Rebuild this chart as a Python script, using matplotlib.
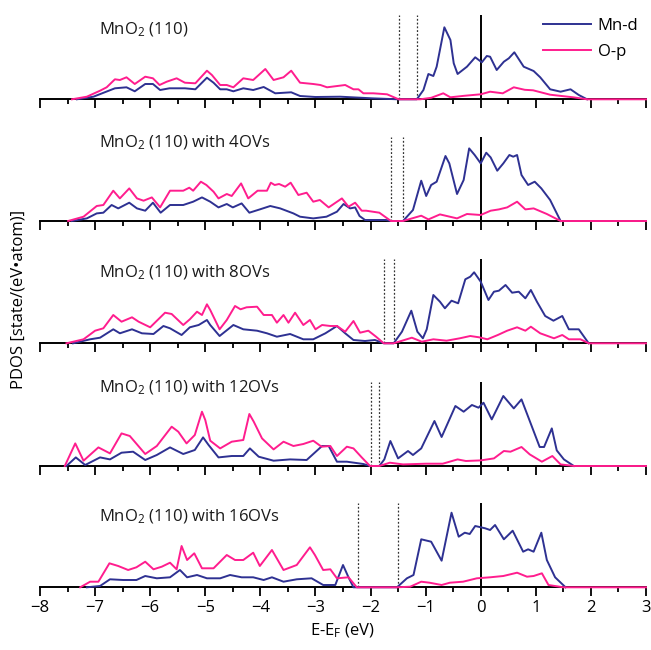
import matplotlib
matplotlib.use('Agg')
import matplotlib.pyplot as plt
from matplotlib.ticker import MultipleLocator

plt.rcParams['font.family'] = ['Open Sans', 'DejaVu Sans']
plt.rcParams['mathtext.default'] = 'regular'

# energy (eV) and PDOS (arbitrary state units) pairs
mnd_0 = [(-7.33, 0), (-7.03, 0.26), (-6.64, 1.1), (-6.43, 1.2), (-6.28, 0.8), (-6.09, 1.53),
         (-5.95, 1.53), (-5.82, 0.93), (-5.65, 1.1), (-5.37, 1.1), (-5.18, 1.0), (-4.97, 2.16),
         (-4.85, 1.66), (-4.73, 1.0), (-4.61, 1.0), (-4.49, 0.8), (-4.31, 1.1), (-4.13, 0.93),
         (-3.94, 1.23), (-3.73, 0.6), (-3.44, 0.7), (-3.28, 0.33), (-3.0, 0.23), (-2.55, 0.26),
         (-1.98, 0.1), (-1.5, 0), (-1.16, 0), (-1.04, 0.93), (-0.95, 2.53), (-0.86, 2.33),
         (-0.8, 3.26), (-0.66, 7.2), (-0.55, 5.93), (-0.49, 3.6), (-0.42, 2.53), (-0.25, 3.26),
         (-0.1, 4.2), (0.02, 3.7), (0.11, 4.33), (0.17, 4.26), (0.29, 2.93), (0.42, 3.76),
         (0.51, 4.1), (0.61, 4.7), (0.78, 3.26), (0.96, 2.83), (1.08, 2.2), (1.26, 1.0),
         (1.45, 0.76), (1.63, 1.0), (1.78, 0.43), (1.93, 0)]
op_0 = [(-7.42, 0), (-7.15, 0.26), (-6.91, 0.86), (-6.79, 1.2), (-6.64, 2.0), (-6.55, 1.93),
        (-6.43, 2.2), (-6.28, 1.53), (-6.09, 2.26), (-5.95, 2.1), (-5.83, 1.43), (-5.7, 1.76),
        (-5.52, 2.1), (-5.37, 1.66), (-5.18, 1.6), (-4.97, 2.86), (-4.88, 2.43), (-4.73, 1.43),
        (-4.61, 1.43), (-4.49, 1.2), (-4.31, 2.1), (-4.13, 1.93), (-3.91, 3.03), (-3.76, 1.93),
        (-3.58, 2.2), (-3.44, 2.86), (-3.28, 1.66), (-3.04, 1.53), (-2.91, 1.43), (-2.79, 1.2),
        (-2.46, 1.43), (-2.31, 1.0), (-2.22, 1.0), (-2.13, 0.6), (-1.95, 0.6), (-1.7, 0.5),
        (-1.49, 0), (-1.1, 0), (-0.9, 0.15), (-0.68, 0.6), (-0.55, 0.2), (-0.3, 0.35), (0, 0.5),
        (0.17, 0.76), (0.4, 0.6), (0.6, 1.2), (0.8, 0.95), (0.95, 0.9), (1.26, 0.46),
        (1.68, 0.2), (1.93, 0), (3, 0)]

mnd_4 = [(-7.42, 0), (-7.15, 0.26), (-6.97, 0.76), (-6.85, 0.83), (-6.7, 1.6), (-6.58, 1.26),
         (-6.38, 1.83), (-6.24, 1.26), (-6.09, 1.03), (-5.95, 1.83), (-5.81, 0.83), (-5.64, 1.6),
         (-5.4, 1.6), (-5.22, 1.93), (-5.06, 2.36), (-4.91, 1.93), (-4.76, 1.36), (-4.61, 1.7),
         (-4.5, 1.36), (-4.34, 1.76), (-4.2, 0.83), (-4.01, 1.16), (-3.82, 1.5), (-3.64, 1.26),
         (-3.4, 0.76), (-3.28, 0.43), (-3.04, 0.26), (-2.8, 0.43), (-2.61, 0.93), (-2.49, 1.7),
         (-2.37, 1.26), (-2.28, 1.36), (-2.2, 0.5), (-2.1, 0.1), (-1.72, 0.1), (-1.63, 0),
         (-1.41, 0), (-1.23, 1.1), (-1.08, 4.03), (-0.99, 2.5), (-0.9, 3.6), (-0.8, 3.93),
         (-0.64, 6.5), (-0.57, 5.76), (-0.43, 2.7), (-0.31, 4.1), (-0.21, 7.26), (-0.11, 6.6),
         (0, 5.76), (0.1, 6.83), (0.18, 6.36), (0.3, 5.03), (0.41, 5.76), (0.52, 6.6),
         (0.59, 6.43), (0.66, 6.6), (0.74, 4.6), (0.86, 3.6), (0.98, 3.93), (1.1, 3.26),
         (1.26, 2.1), (1.35, 1.1), (1.45, 0)]
op_4 = [(-7.49, 0), (-7.21, 0.43), (-6.97, 1.5), (-6.85, 1.6), (-6.67, 3.03), (-6.55, 2.26),
        (-6.38, 3.26), (-6.24, 2.26), (-6.12, 2.03), (-5.97, 2.36), (-5.82, 1.36), (-5.64, 3.03),
        (-5.4, 3.03), (-5.29, 3.33), (-5.22, 3.03), (-5.08, 3.93), (-4.98, 3.6), (-4.85, 2.93),
        (-4.76, 2.26), (-4.61, 2.7), (-4.52, 2.5), (-4.35, 3.76), (-4.22, 2.26), (-4.05, 3.03),
        (-3.88, 3.03), (-3.81, 3.83), (-3.74, 3.6), (-3.66, 3.7), (-3.55, 3.43), (-3.45, 3.83),
        (-3.31, 2.6), (-3.16, 2.83), (-3.04, 1.93), (-2.92, 2.1), (-2.76, 1.36), (-2.52, 2.26),
        (-2.4, 1.43), (-2.28, 1.83), (-2.16, 1.03), (-2.08, 1.03), (-1.84, 0.83), (-1.63, 0),
        (-1.41, 0), (-1.08, 0.53), (-0.95, 0.16), (-0.74, 0.66), (-0.43, 0.26), (-0.25, 0.7),
        (0, 0.6), (0.18, 1.03), (0.33, 1.16), (0.48, 1.36), (0.66, 1.93), (0.81, 1.16),
        (0.96, 1.26), (1.2, 0.7), (1.45, 0), (3, 0)]

mnd_8 = [(-7.4, 0), (-7.09, 0.4), (-6.91, 0.56), (-6.67, 1.4), (-6.55, 1.0), (-6.33, 1.4),
         (-6.15, 1.0), (-5.94, 0.93), (-5.76, 1.73), (-5.64, 1.5), (-5.43, 0.83), (-5.28, 1.6),
         (-5.12, 1.83), (-4.97, 2.33), (-4.91, 1.83), (-4.74, 0.73), (-4.49, 1.83), (-4.31, 1.4),
         (-4.06, 1.26), (-3.88, 1.0), (-3.7, 0.66), (-3.46, 0.93), (-3.22, 0.4), (-3.04, 0.4),
         (-2.82, 1.0), (-2.61, 1.73), (-2.46, 1.0), (-2.31, 0.33), (-2.1, 0.23), (-1.92, 0.33),
         (-1.76, 0), (-1.58, 0), (-1.43, 1.16), (-1.26, 3.26), (-1.15, 1.16), (-1.05, 0.5),
         (-0.98, 1.4), (-0.86, 4.83), (-0.74, 4.16), (-0.65, 3.5), (-0.53, 4.26), (-0.41, 4.0),
         (-0.28, 6.4), (-0.19, 6.66), (-0.12, 7.1), (0, 6.16), (0.14, 4.33), (0.24, 5.16),
         (0.33, 5.26), (0.45, 5.83), (0.57, 5.06), (0.69, 5.16), (0.81, 4.5), (0.91, 5.33),
         (1.02, 4.16), (1.17, 2.73), (1.32, 2.26), (1.48, 2.73), (1.6, 1.4), (1.78, 1.4),
         (1.96, 0)]
op_8 = [(-7.52, 0), (-7.21, 0.4), (-7.0, 1.26), (-6.85, 1.5), (-6.67, 2.83), (-6.52, 2.16),
        (-6.33, 2.6), (-6.21, 2.16), (-6.0, 1.6), (-5.73, 3.06), (-5.61, 2.93), (-5.4, 1.83),
        (-5.28, 2.4), (-5.15, 3.16), (-5.06, 2.83), (-4.97, 3.9), (-4.91, 3.33), (-4.74, 1.4),
        (-4.61, 2.33), (-4.46, 3.73), (-4.36, 3.4), (-4.25, 3.6), (-4.06, 3.66), (-3.94, 2.83),
        (-3.79, 2.83), (-3.7, 2.06), (-3.58, 2.83), (-3.49, 2.06), (-3.37, 3.06), (-3.22, 1.83),
        (-3.1, 2.33), (-3.0, 1.4), (-2.88, 1.83), (-2.73, 1.73), (-2.61, 1.73), (-2.46, 1.16),
        (-2.31, 2.23), (-2.19, 1.06), (-2.04, 1.26), (-1.9, 0.66), (-1.76, 0), (-1.58, 0),
        (-1.25, 0.56), (-1.07, 0.16), (-0.86, 0.4), (-0.62, 0.26), (-0.38, 0.5), (-0.19, 0.73),
        (-0.03, 0.6), (0.12, 0.4), (0.31, 0.83), (0.48, 1.26), (0.66, 1.6), (0.81, 1.26),
        (0.91, 1.66), (1.08, 1.0), (1.33, 0.5), (1.48, 0.83), (1.6, 0.4), (1.81, 0.4),
        (1.96, 0), (3, 0)]

mnd_12 = [(-7.52, 0), (-7.35, 0.86), (-7.18, 0.1), (-6.91, 0.86), (-6.73, 0.66), (-6.52, 1.33),
          (-6.31, 1.43), (-6.09, 0.6), (-5.88, 1.1), (-5.64, 1.86), (-5.4, 1.2), (-5.19, 1.6),
          (-5.04, 2.86), (-4.94, 2.1), (-4.76, 0.86), (-4.52, 1.0), (-4.31, 1.0), (-4.19, 1.76),
          (-4.03, 0.93), (-3.76, 0.53), (-3.46, 0.66), (-3.16, 0.6), (-2.88, 2.0), (-2.76, 2.0),
          (-2.61, 0.43), (-2.43, 0.43), (-2.13, 0.2), (-2.01, 0), (-1.84, 0), (-1.75, 0.66),
          (-1.64, 2.5), (-1.5, 0.76), (-1.32, 1.5), (-1.23, 1.1), (-1.08, 1.76), (-0.84, 4.5),
          (-0.71, 2.9), (-0.46, 6.0), (-0.31, 5.43), (-0.16, 6.1), (-0.04, 5.83), (0.05, 6.33),
          (0.2, 4.66), (0.41, 7.0), (0.6, 5.76), (0.74, 6.66), (0.89, 4.5), (1.07, 1.9),
          (1.15, 1.9), (1.29, 3.76), (1.38, 1.56), (1.51, 0.66), (1.69, 0)]
op_12 = [(-7.55, 0), (-7.36, 2.26), (-7.21, 0.53), (-6.94, 1.86), (-6.73, 1.26), (-6.52, 3.26),
         (-6.37, 3.0), (-6.09, 1.2), (-5.88, 2.0), (-5.61, 3.93), (-5.49, 3.43), (-5.34, 2.26),
         (-5.19, 3.1), (-5.06, 5.43), (-5.0, 4.6), (-4.91, 2.53), (-4.73, 1.76), (-4.52, 2.43),
         (-4.31, 2.6), (-4.2, 5.2), (-4.12, 4.43), (-3.97, 2.76), (-3.76, 1.66), (-3.58, 2.43),
         (-3.4, 2.0), (-3.22, 2.2), (-3.04, 2.53), (-2.89, 1.93), (-2.73, 2.0), (-2.61, 1.0),
         (-2.43, 1.93), (-2.31, 1.76), (-2.16, 0.86), (-2.01, 0), (-1.84, 0), (-1.65, 0.33),
         (-1.41, 0.16), (-0.99, 0.23), (-0.69, 0.23), (-0.42, 0.66), (-0.27, 0.5), (0, 0.56),
         (0.24, 0.76), (0.42, 1.5), (0.54, 1.43), (0.74, 1.9), (0.89, 1.16), (1.11, 0.43),
         (1.3, 1.0), (1.45, 0.16), (1.69, 0), (3, 0)]

mnd_16 = [(-7.15, 0), (-6.91, 0.13), (-6.73, 0.8), (-6.49, 0.73), (-6.25, 0.73), (-6.09, 1.13),
          (-5.88, 0.9), (-5.64, 1.0), (-5.46, 1.73), (-5.33, 1.0), (-5.15, 1.23), (-4.97, 0.9),
          (-4.73, 0.9), (-4.55, 1.23), (-4.34, 1.0), (-4.13, 1.0), (-3.94, 0.73), (-3.79, 1.0),
          (-3.58, 0.56), (-3.34, 0.8), (-3.07, 0.9), (-2.86, 0.23), (-2.64, 0.23), (-2.5, 2.23),
          (-2.4, 1.0), (-2.31, 0), (-1.52, 0), (-1.34, 0.9), (-1.22, 1.23), (-1.08, 4.8),
          (-0.9, 4.56), (-0.71, 2.66), (-0.53, 7.46), (-0.4, 5.06), (-0.29, 5.46), (-0.2, 5.33),
          (-0.1, 6.13), (0.08, 5.9), (0.17, 5.73), (0.26, 6.23), (0.42, 4.8), (0.58, 5.66),
          (0.77, 3.56), (0.86, 3.8), (0.96, 3.56), (1.1, 5.46), (1.2, 2.73), (1.35, 1.0),
          (1.54, 0)]
op_16 = [(-7.27, 0), (-7.09, 0.56), (-6.94, 0.56), (-6.74, 2.4), (-6.58, 2.13), (-6.4, 1.73),
         (-6.25, 2.0), (-6.09, 2.56), (-5.94, 1.8), (-5.79, 2.06), (-5.64, 2.46), (-5.52, 1.8),
         (-5.43, 4.13), (-5.33, 2.73), (-5.2, 3.4), (-5.06, 1.9), (-4.85, 1.9), (-4.61, 3.23),
         (-4.46, 2.73), (-4.31, 2.73), (-4.13, 3.46), (-4.01, 2.13), (-3.79, 3.73), (-3.58, 1.73),
         (-3.34, 2.23), (-3.1, 4.0), (-3.01, 3.23), (-2.86, 1.73), (-2.73, 1.8), (-2.61, 0.9),
         (-2.4, 1.0), (-2.25, 0), (-1.52, 0), (-1.28, 0.06), (-1.08, 0.56), (-0.93, 0.46),
         (-0.71, 0.23), (-0.56, 0.46), (-0.32, 0.56), (-0.07, 0.9), (0.17, 1.0), (0.41, 1.13),
         (0.66, 1.46), (0.84, 1.06), (0.96, 1.13), (1.11, 1.4), (1.23, 0.23), (1.5, 0), (3, 0)]

titles = ['MnO$_2$ (110)', 'MnO$_2$ (110) with 4OVs', 'MnO$_2$ (110) with 8OVs',
          'MnO$_2$ (110) with 12OVs', 'MnO$_2$ (110) with 16OVs']
# band edges marked with dotted lines (eV)
edges = [(-1.49, -1.16), (-1.62, -1.41), (-1.75, -1.57), (-1.99, -1.84), (-2.23, -1.51)]
mnd_all = [mnd_0, mnd_4, mnd_8, mnd_12, mnd_16]
op_all = [op_0, op_4, op_8, op_12, op_16]

MN_COLOR = '#2e3192'
O_COLOR = '#ff1d8e'

fig = plt.figure(figsize=(6.51, 6.5), dpi=100)

left, width, height = 40 / 651, 606 / 651, 84 / 650
baselines = [99.3, 221, 343.3, 466, 587.3]
title_y = [0.825, 0.93, 0.837, 0.93, 0.837]

for i in range(5):
  ax = fig.add_axes([left, 1 - baselines[i] / 650, width, height])
  e_mn, v_mn = zip(*mnd_all[i])
  e_op, v_op = zip(*op_all[i])
  ax.axvline(0, color='black', lw=1.4, zorder=1)
  for e in edges[i]:
    ax.axvline(e, color='#333333', lw=0.9, ls=(0, (1.5, 1.5)), zorder=1)
  ax.plot(e_mn, v_mn, color=MN_COLOR, lw=1.4, label='Mn-d', clip_on=False, zorder=3,
          solid_joinstyle='round')
  ax.plot(e_op, v_op, color=O_COLOR, lw=1.4, label='O-p', clip_on=False, zorder=4,
          solid_joinstyle='round')
  ax.set_xlim(-8, 3)
  ax.set_ylim(0, 8.4)
  for s in ['top', 'left', 'right']:
    ax.spines[s].set_visible(False)
  ax.spines['bottom'].set_linewidth(1.4)
  ax.set_yticks([])
  ax.xaxis.set_major_locator(MultipleLocator(1))
  ax.xaxis.set_minor_locator(MultipleLocator(0.5))
  ax.tick_params(axis='x', which='major', direction='out', length=6.5, width=1.3,
                 labelsize=12, pad=3)
  ax.tick_params(axis='x', which='minor', direction='out', length=3.5, width=1.3)
  ax.patch.set_alpha(0)
  ax.text(0.097, title_y[i], titles[i], transform=ax.transAxes, fontsize=12,
          va='center', ha='left', color='#1a1a1a')
  if i < 4:
    ax.tick_params(axis='x', labelbottom=False)
  else:
    ax.set_xlabel('E-E$_F$ (eV)', fontsize=12, labelpad=4)
  if i == 0:
    ax.legend(loc='upper right', bbox_to_anchor=(1.012, 1.15), frameon=False, fontsize=12,
              handlelength=2.9, labelspacing=0.6, handletextpad=0.4)

fig.text(0.028, 0.54, 'PDOS [state/(eV\u2022atom)]', rotation=90, fontsize=12,
         va='center', ha='center')

fig.savefig('out.png', dpi=100)
